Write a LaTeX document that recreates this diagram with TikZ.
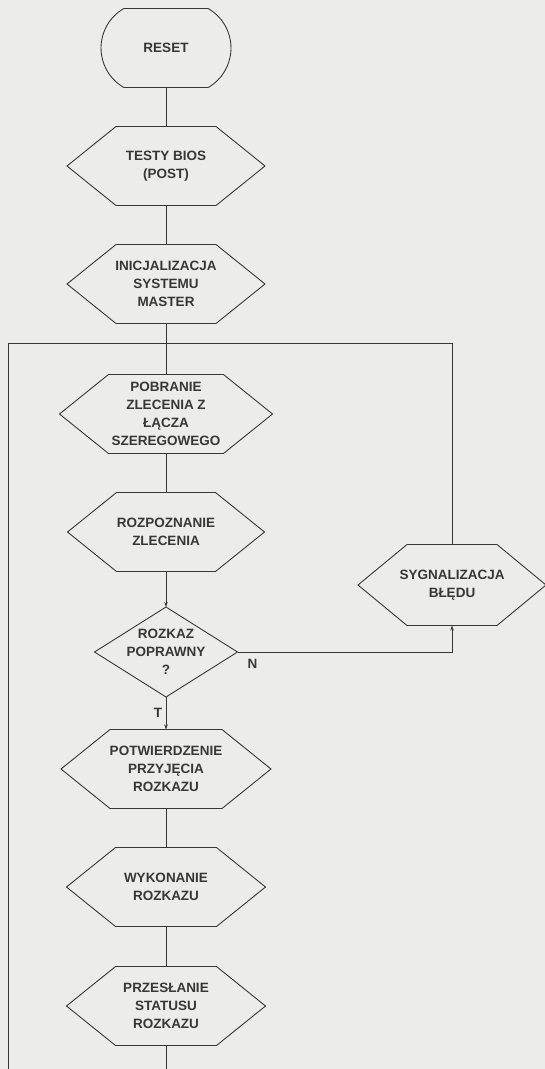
\documentclass[tikz,border=0pt]{standalone}
\usepackage{fontspec}
\setmainfont{Liberation Sans}
\usepackage{tikz}
\usetikzlibrary{arrows.meta,shapes.misc}
\definecolor{scanbg}{RGB}{236,236,234}
\definecolor{ink}{RGB}{55,55,55}

\begin{document}
\begin{tikzpicture}[x=1pt, y=-1pt, line width=0.9pt, ink,
    every node/.style={font=\fontsize{13.5}{18}\selectfont\bfseries, align=center},
    term/.style={draw, rounded rectangle, rounded rectangle arc length=120,
      minimum width=130pt, minimum height=79pt, inner sep=0pt},
    hexbox/.style={rectangle, minimum height=79pt, inner sep=0pt, outer sep=0pt},
    testbox/.style={rectangle, minimum width=143pt, minimum height=90pt, inner sep=0pt, outer sep=0pt},
    tip/.style={-{Stealth[length=5pt, width=3.5pt]}}]
  \fill[scanbg] (0,0) rectangle (545,1069);
  \useasboundingbox (0,0) rectangle (545,1069);

  \node[term] (reset) at (166,48) {RESET};
  \node[hexbox, minimum width=198pt] (bios)   at (166,166)  {TESTY BIOS\\(POST)};
  \node[hexbox, minimum width=198pt] (init)   at (166,284)  {INICJALIZACJA\\SYSTEMU\\MASTER};
  \node[hexbox, minimum width=213pt] (fetch)  at (166,414)  {POBRANIE\\ZLECENIA Z\\ŁĄCZA\\SZEREGOWEGO};
  \node[hexbox, minimum width=197pt] (parse)  at (166,532)  {ROZPOZNANIE\\ZLECENIA};
  \node[testbox]                     (valid)  at (166,652)  {ROZKAZ\\POPRAWNY\\?};
  \node[hexbox, minimum width=210pt] (ack)    at (166,769)  {POTWIERDZENIE\\PRZYJĘCIA\\ROZKAZU};
  \node[hexbox, minimum width=199pt] (exec)   at (166,887)  {WYKONANIE\\ROZKAZU};
  \node[hexbox, minimum width=199pt] (status) at (166,1006) {PRZESŁANIE\\STATUSU\\ROZKAZU};
  \node[hexbox, minimum width=188pt, minimum height=81pt] (error) at (452,585) {SYGNALIZACJA\\BŁĘDU};

  % --- hexagon and diamond outlines round the boxes ---
  \foreach \n in {bios,init,fetch,parse,ack,exec,status,error}
    \draw (\n.west) -- ([xshift=49pt]\n.north west) -- ([xshift=-49pt]\n.north east)
      -- (\n.east) -- ([xshift=-49pt]\n.south east) -- ([xshift=49pt]\n.south west) -- cycle;
  \draw (valid.north) -- (valid.east) -- (valid.south) -- (valid.west) -- cycle;

  % --- main flow ---
  \coordinate (join) at (166,343);
  \coordinate (back) at (8,1069);
  \coordinate (out)  at (166,1069);
  \draw (reset.south) -- (bios.north);
  \draw (bios.south) -- (init.north);
  \draw (init.south) -- (fetch.north);
  \draw (fetch.south) -- (parse.north);
  \draw[tip] (parse.south) -- (valid.north);
  \draw[tip] (valid.south) -- node[left] {T} (ack.north);
  \draw (ack.south) -- (exec.north);
  \draw (exec.south) -- (status.north);
  \draw (status.south) -- (out);

  % --- error branch and loop back ---
  \draw[tip] (valid.east) -| node[pos=0.035, below=3pt] {N} (error.south);
  \draw (error.north) |- (join);
  \draw (back) |- (join);
\end{tikzpicture}
\end{document}
